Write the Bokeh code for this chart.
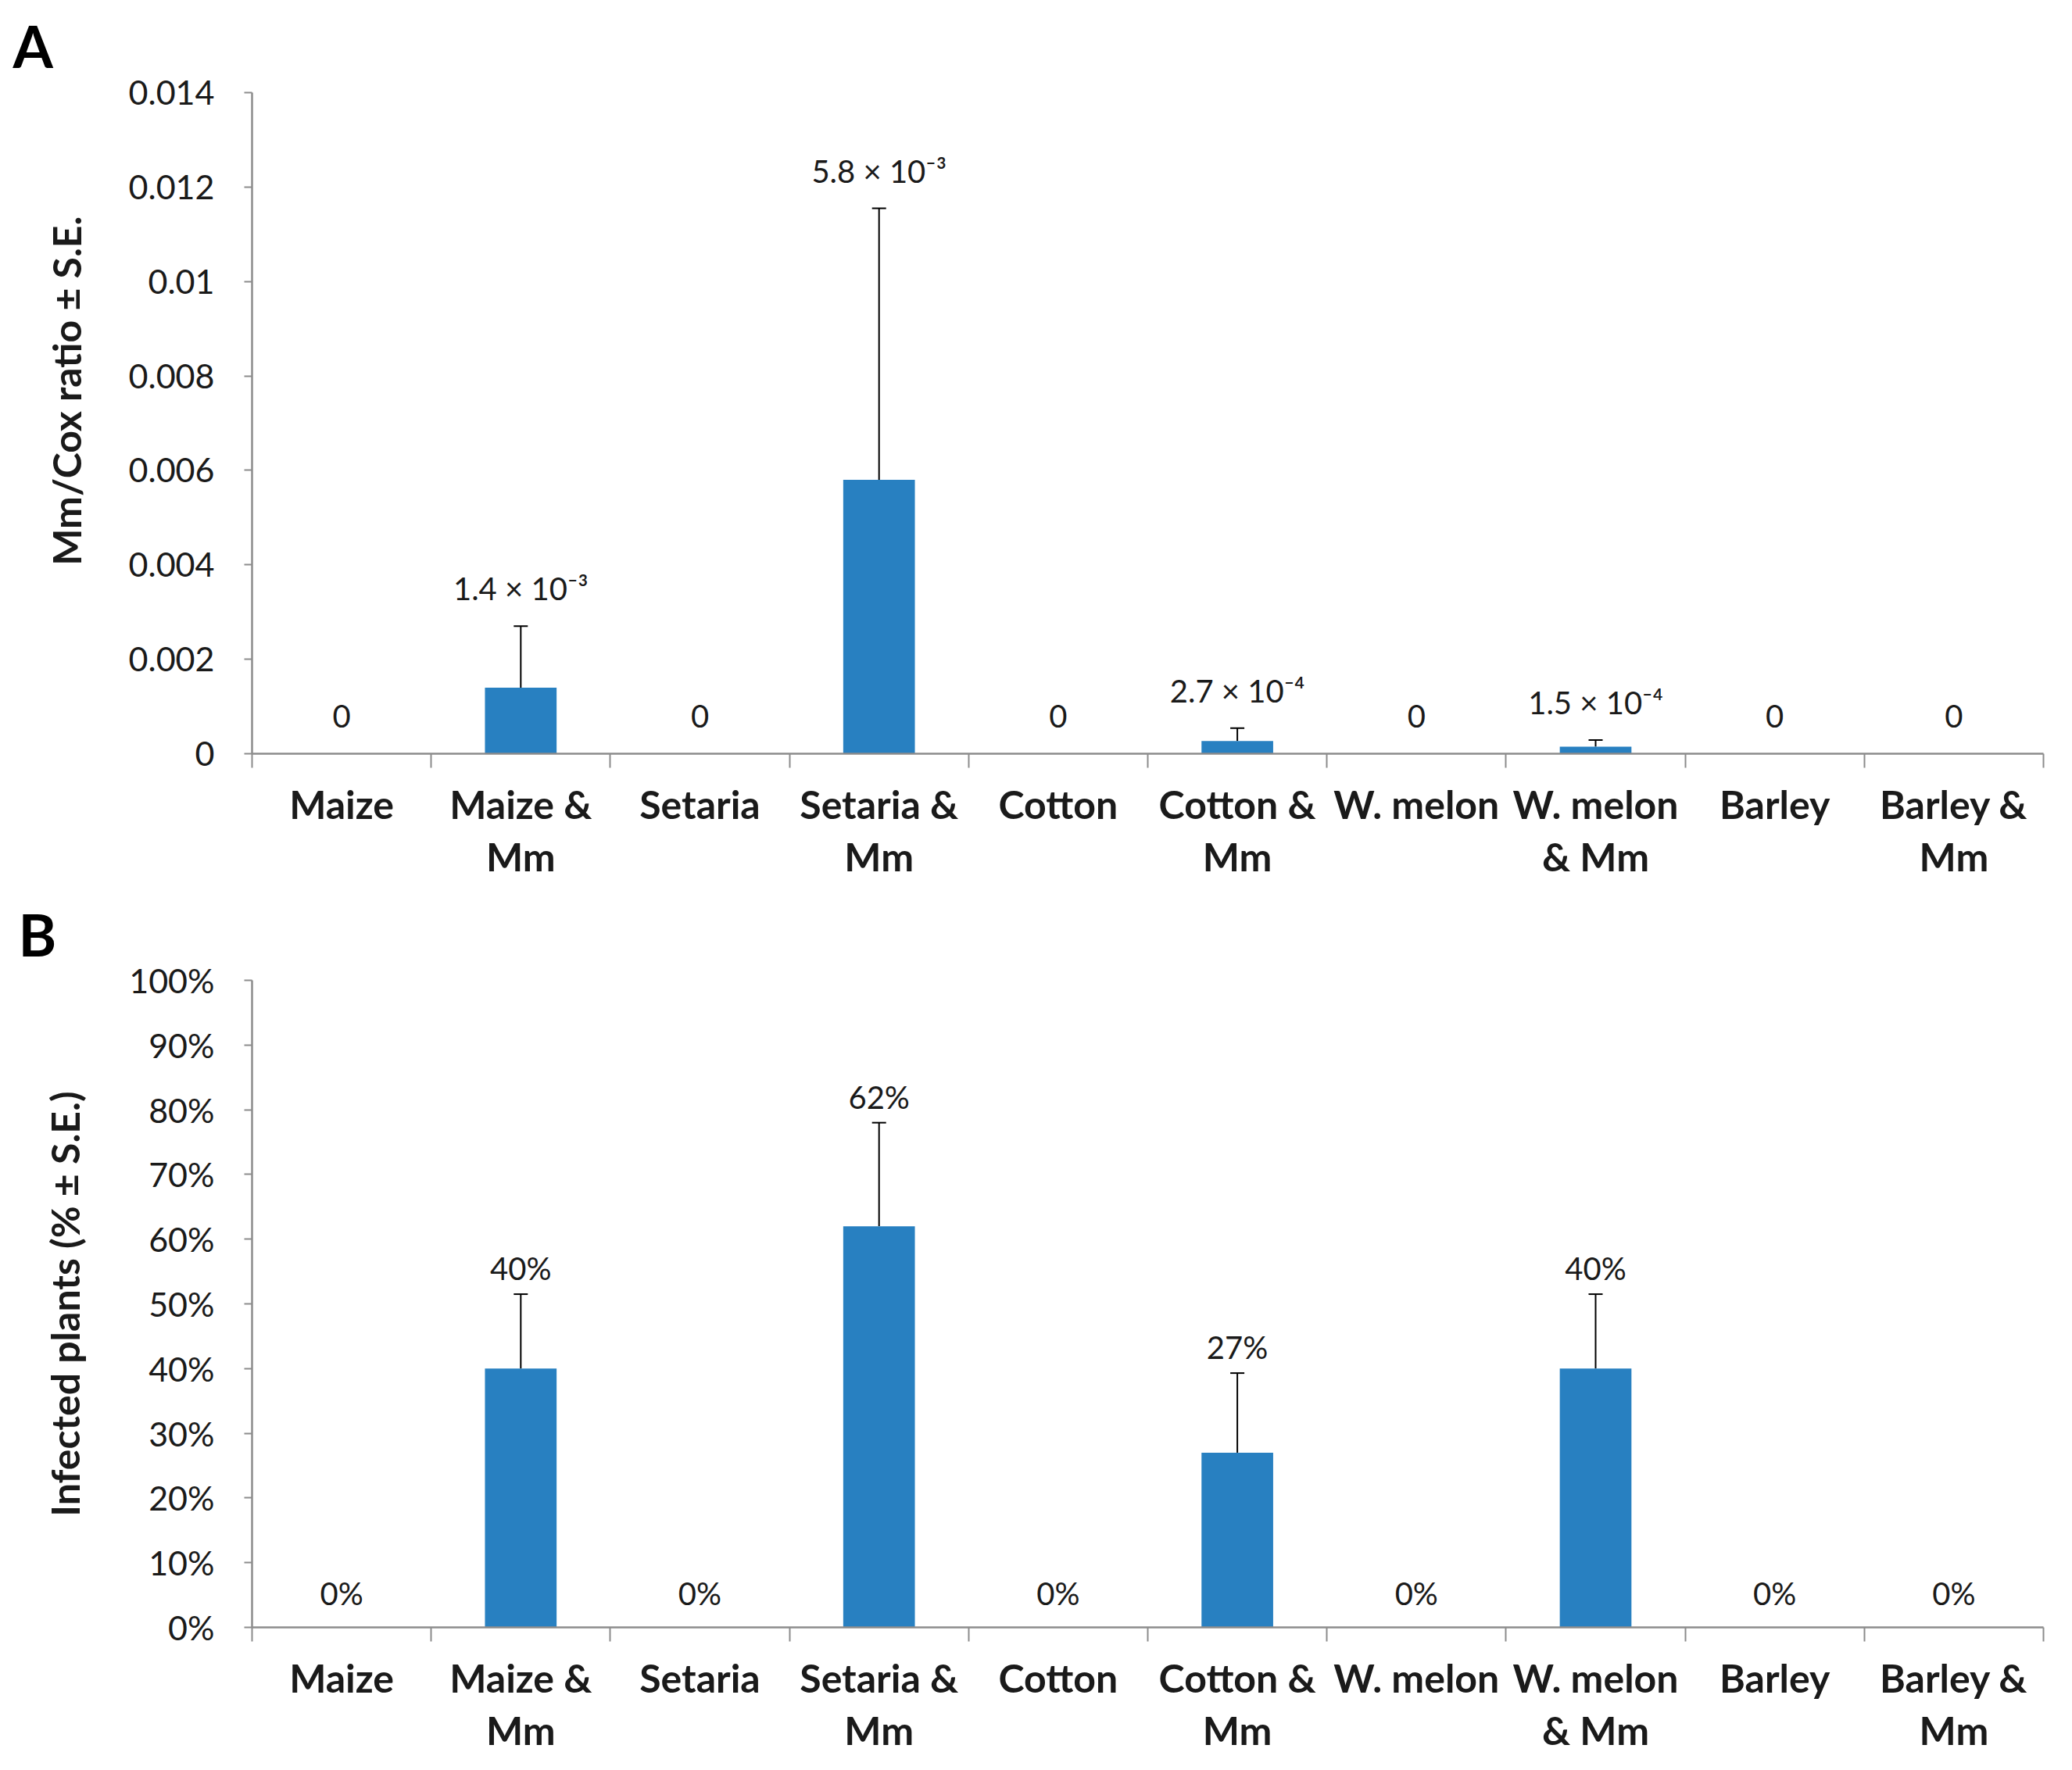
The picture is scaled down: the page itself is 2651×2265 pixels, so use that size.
from bokeh.plotting import figure
from bokeh.models import (FactorRange, LinearAxis, FixedTicker, ColumnDataSource,
                          Whisker, TeeHead, Title)
from bokeh.layouts import column
from bokeh.embed import file_html
from bokeh.resources import INLINE
from bokeh.core.properties import value

# ---------------- data ----------------
categories = ["Maize", "Maize & Mm", "Setaria", "Setaria & Mm", "Cotton",
              "Cotton & Mm", "W. melon", "W. melon & Mm", "Barley", "Barley & Mm"]
category_labels = ["Maize", "Maize &\nMm", "Setaria", "Setaria &\nMm", "Cotton",
                   "Cotton &\nMm", "W. melon", "W. melon\n& Mm", "Barley", "Barley &\nMm"]

ratio_mean = [0, 0.0014, 0, 0.0058, 0, 0.00027, 0, 0.00015, 0, 0]
ratio_se = [0, 0.0013, 0, 0.00575, 0, 0.00027, 0, 0.00014, 0, 0]
ratio_labels = ["0", "1.4 × 10⁻³", "0", "5.8 × 10⁻³", "0", "2.7 × 10⁻⁴",
                "0", "1.5 × 10⁻⁴", "0", "0"]
ratio_ticks = [0, 0.002, 0.004, 0.006, 0.008, 0.01, 0.012, 0.014]
ratio_tick_labels = ["0", "0.002", "0.004", "0.006", "0.008", "0.01", "0.012", "0.014"]

infected_mean = [0, 40, 0, 62, 0, 27, 0, 40, 0, 0]
infected_se = [0, 11.5, 0, 16, 0, 12.3, 0, 11.5, 0, 0]
infected_labels = ["0%", "40%", "0%", "62%", "0%", "27%", "0%", "40%", "0%", "0%"]
infected_ticks = [0, 10, 20, 30, 40, 50, 60, 70, 80, 90, 100]
infected_tick_labels = ["0%", "10%", "20%", "30%", "40%", "50%", "60%", "70%", "80%", "90%", "100%"]

# ---------------- style ----------------
FONT = "Lato"
BAR = "#2880C1"
AXIS = "#8C8C8C"
TXT = "#1A1A1A"
W = 2635


def panel(mean, se, labels, ticks, tick_labels, ymax, height, top, frame_h,
          left, frame_w, letter, letter_offset, letter_standoff, letter_valign,
          ytitle, ytitle_align, ytitle_offset, ytitle_standoff, label_offset):
    bottom = height - top - frame_h
    right = W - left - frame_w
    p = figure(width=W, height=height, x_range=FactorRange(factors=categories),
               y_range=(0, ymax), x_axis_location=None, y_axis_location=None,
               toolbar_location=None, output_backend="svg",
               min_border_left=left, min_border_right=right,
               min_border_top=top, min_border_bottom=bottom)
    p.outline_line_color = None
    for g in p.grid:
        g.visible = False

    n = len(categories)
    centers = [i + 0.5 for i in range(n)]
    xaxis = LinearAxis(ticker=FixedTicker(ticks=centers, minor_ticks=list(range(n + 1))))
    xaxis.major_label_overrides = {c: lab for c, lab in zip(centers, category_labels)}
    xaxis.major_tick_out = 0
    xaxis.major_tick_in = 0
    xaxis.minor_tick_out = 18
    xaxis.minor_tick_in = 0
    xaxis.minor_tick_line_color = AXIS
    xaxis.minor_tick_line_width = 2
    xaxis.axis_line_color = AXIS
    xaxis.axis_line_width = 2.5
    xaxis.major_label_text_font = FONT
    xaxis.major_label_text_font_style = "bold"
    xaxis.major_label_text_font_size = "50px"
    xaxis.major_label_text_color = TXT
    xaxis.major_label_text_line_height = 1.12
    xaxis.major_label_standoff = 16
    p.add_layout(xaxis, "below")

    yaxis = LinearAxis(ticker=FixedTicker(ticks=ticks, minor_ticks=[]))
    yaxis.major_label_overrides = {t: s for t, s in zip(ticks, tick_labels)}
    yaxis.major_tick_out = 10
    yaxis.major_tick_in = 0
    yaxis.major_tick_line_color = AXIS
    yaxis.major_tick_line_width = 2
    yaxis.axis_line_color = AXIS
    yaxis.axis_line_width = 2.5
    yaxis.major_label_text_font = FONT
    yaxis.major_label_text_font_size = "43px"
    yaxis.major_label_text_color = TXT
    yaxis.major_label_standoff = 38
    p.add_layout(yaxis, "left")

    p.add_layout(Title(text=ytitle, align=ytitle_align, offset=ytitle_offset,
                       standoff=ytitle_standoff, text_font=FONT,
                       text_font_style="bold", text_font_size="50px",
                       text_color=TXT), "left")
    p.add_layout(Title(text=letter, align="left", offset=letter_offset,
                       standoff=letter_standoff, vertical_align=letter_valign,
                       text_font=FONT, text_font_style="bold",
                       text_font_size="74px", text_color="black"), "above")

    p.vbar(x=categories, top=mean, width=0.4, fill_color=BAR, line_color=None)

    idx = [i for i in range(n) if se[i] > 0]
    wsrc = ColumnDataSource(data=dict(
        x=[categories[i] for i in idx],
        lower=[mean[i] for i in idx],
        upper=[mean[i] + se[i] for i in idx]))
    whisk = Whisker(base="x", lower="lower", upper="upper", source=wsrc,
                    line_color="black", line_width=2,
                    upper_head=TeeHead(size=18, line_color="black", line_width=2),
                    lower_head=None)
    p.add_layout(whisk)

    anchors = [m + s for m, s in zip(mean, se)]
    offs = [label_offset[0] if s > 0 else label_offset[1] for s in se]
    tsrc = ColumnDataSource(data=dict(x=categories, y=anchors, t=labels, off=offs))
    p.text(x="x", y="y", text="t", y_offset="off", source=tsrc,
           text_align="center", text_baseline="middle",
           text_font=value(FONT), text_font_size="40px", text_color=TXT)
    return p


pa = panel(ratio_mean, ratio_se, ratio_labels, ratio_ticks, ratio_tick_labels,
           0.014, height=1131, top=111, frame_h=853, left=315, frame_w=2305,
           letter="A", letter_offset=-306, letter_standoff=27, letter_valign="top",
           ytitle="Mm/Cox ratio ± S.E.", ytitle_align="right", ytitle_offset=158,
           ytitle_standoff=93, label_offset=(-48, -48))
pb = panel(infected_mean, infected_se, infected_labels, infected_ticks,
           infected_tick_labels, 100, height=1118, top=123, frame_h=828,
           left=311, frame_w=2303, letter="B", letter_offset=-299, letter_standoff=30,
           letter_valign="bottom",
           ytitle="Infected plants (% ± S.E.)", ytitle_align="center", ytitle_offset=0,
           ytitle_standoff=100, label_offset=(-33, -44))

layout = column(pa, pb, spacing=0)
open("out.html", "w").write(file_html(layout, INLINE))
